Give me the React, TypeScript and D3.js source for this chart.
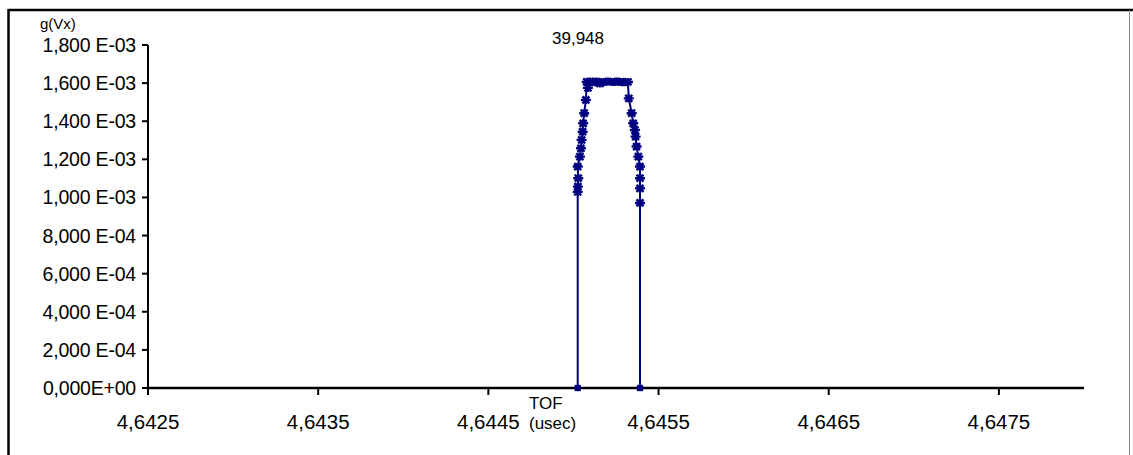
import React from "react";
import * as d3 from "d3";

const W = 1133;
const H = 455;

// TOF (usec) values
const tof: number[] = [
  4.645025, 4.645025, 4.645026, 4.645028, 4.645025, 4.645038, 4.645044, 4.645048,
  4.645054, 4.645057, 4.645063, 4.645073, 4.645078, 4.645085, 4.645097, 4.645115,
  4.645135, 4.645156, 4.645179, 4.645203, 4.645232, 4.645256, 4.645279, 4.645302,
  4.645320, 4.645325, 4.645342, 4.645351, 4.645361, 4.645365, 4.645371, 4.645381,
  4.645391, 4.645391, 4.645391, 4.645391, 4.645391,
];
// g(Vx) values
const gvx: number[] = [
  0, 1.029e-3, 1.057e-3, 1.101e-3, 1.162e-3, 1.214e-3, 1.258e-3, 1.302e-3,
  1.345e-3, 1.389e-3, 1.442e-3, 1.512e-3, 1.606e-3, 1.575e-3, 1.608e-3, 1.604e-3,
  1.608e-3, 1.598e-3, 1.606e-3, 1.608e-3, 1.606e-3, 1.608e-3, 1.606e-3, 1.604e-3,
  1.606e-3, 1.520e-3, 1.442e-3, 1.389e-3, 1.354e-3, 1.319e-3, 1.267e-3, 1.214e-3,
  1.162e-3, 1.101e-3, 1.048e-3, 0.971e-3, 0,
];

const xTicks: number[] = [4.6425, 4.6435, 4.6445, 4.6455, 4.6465, 4.6475];
const xTickLabels: string[] = ["4,6425", "4,6435", "4,6445", "4,6455", "4,6465", "4,6475"];
const yTicks: number[] = [0, 2e-4, 4e-4, 6e-4, 8e-4, 1e-3, 1.2e-3, 1.4e-3, 1.6e-3, 1.8e-3];
const yTickLabels: string[] = [
  "0,000E+00", "2,000 E-04", "4,000 E-04", "6,000 E-04", "8,000 E-04",
  "1,000 E-03", "1,200 E-03", "1,400 E-03", "1,600 E-03", "1,800 E-03",
];
const annotation = "39,948";
const yTitle = "g(Vx)";
const xTitle = ["TOF", "(usec)"];

const FONT = "'Liberation Sans', Arial, sans-serif";
const NAVY = "#000080";

export default function App() {
  const x = d3.scaleLinear().domain([4.6425, 4.648]).range([148, 1084]);
  const y = d3.scaleLinear().domain([0, 0.0018]).range([388, 45]);
  const pts = tof.map((t, i) => [t, gvx[i]] as [number, number]);
  const line = d3
    .line<[number, number]>()
    .x((d) => x(d[0]))
    .y((d) => y(d[1]));
  const star = "M-5,0H5M0,-4V4M-3.5,-3.5L3.5,3.5M-3.5,3.5L3.5,-3.5";
  const square = d3.symbol().type(d3.symbolSquare).size(40)() as string;

  return (
    <svg
      width={W}
      height={H}
      style={{ position: "absolute", left: 0, top: 0, background: "#fff" }}
      fontFamily={FONT}
    >
      <rect x={0} y={0} width={W} height={H} fill="#fff" />
      {/* frame */}
      <line x1={8.5} y1={10} x2={W} y2={10} stroke="#000" strokeWidth={2.5} />
      <line x1={8.5} y1={9} x2={8.5} y2={H} stroke="#000" strokeWidth={2.5} />
      <line x1={1129.5} y1={10} x2={1129.5} y2={H} stroke="#888" strokeWidth={1} />

      {/* y axis */}
      <line x1={148} y1={y(0.0018)} x2={148} y2={y(0)} stroke="#000" strokeWidth={2} />
      {yTicks.map((v, i) => (
        <g key={"yt" + i}>
          <line x1={142} x2={148} y1={y(v)} y2={y(v)} stroke="#000" strokeWidth={2} />
          <text
            x={136}
            y={y(v)}
            dy={7}
            textAnchor="end"
            fontSize={19.5}
            fill="#000"
            letterSpacing={-0.2}
          >
            {yTickLabels[i]}
          </text>
        </g>
      ))}
      <text x={40} y={29} fontSize={15} fill="#000">
        {yTitle}
      </text>

      {/* x axis */}
      <line x1={147} y1={388} x2={1084} y2={388} stroke="#000" strokeWidth={2.5} />
      {xTicks.map((v, i) => (
        <g key={"xt" + i}>
          <line x1={x(v)} x2={x(v)} y1={388} y2={395} stroke="#000" strokeWidth={2} />
          <text
            x={x(v)}
            y={429}
            textAnchor="middle"
            fontSize={20.5}
            fill="#000"
            letterSpacing={0}
          >
            {xTickLabels[i]}
          </text>
        </g>
      ))}
      <text x={529} y={409} fontSize={17} fill="#000">
        {xTitle[0]}
      </text>
      <text x={529} y={429} fontSize={17} fill="#000">
        {xTitle[1]}
      </text>

      <text x={578} y={44} textAnchor="middle" fontSize={17} fill="#000">
        {annotation}
      </text>

      {/* series */}
      <path d={line(pts) as string} fill="none" stroke={NAVY} strokeWidth={2} />
      {pts.map((d, i) =>
        d[1] === 0 ? (
          <path
            key={"m" + i}
            d={square}
            transform={`translate(${x(d[0])},${y(d[1])})`}
            fill={NAVY}
          />
        ) : (
          <path
            key={"m" + i}
            d={star}
            transform={`translate(${x(d[0])},${y(d[1])})`}
            fill="none"
            stroke={NAVY}
            strokeWidth={2.4}
          />
        )
      )}
    </svg>
  );
}
